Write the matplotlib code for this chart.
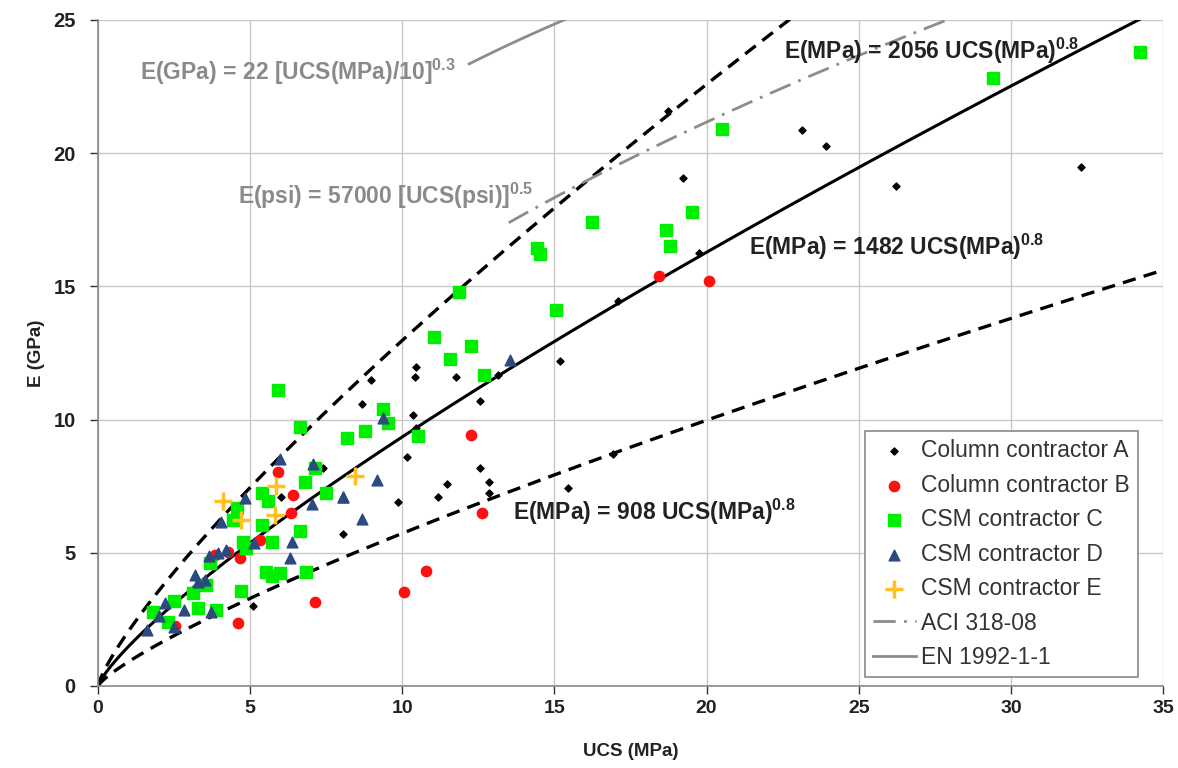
import numpy as np
import matplotlib
matplotlib.use("Agg")
import matplotlib.pyplot as plt

# ---- data ----
a_x = [18.73, 23.13, 23.92, 19.21, 19.76, 17.10, 15.18, 16.92, 15.45, 26.22, 32.3,
       10.45, 10.42, 11.75, 8.96, 8.67, 10.36, 12.55, 13.13, 10.45, 10.17, 7.38,
       12.55, 11.46, 12.86, 12.86, 11.16, 9.87, 8.06, 6.0, 5.09]
a_y = [21.58, 20.87, 20.27, 19.08, 16.24, 14.45, 12.2, 8.71, 7.43, 18.78, 19.48,
       11.99, 11.58, 11.58, 11.49, 10.57, 10.17, 10.7, 11.69, 9.7, 8.61, 8.17,
       8.17, 7.58, 7.67, 7.24, 7.1, 6.9, 5.7, 7.08, 3.0]

b_x = [18.44, 20.08, 12.26, 12.63, 10.78, 10.07, 5.92, 6.41, 6.35, 5.31, 4.68,
       7.14, 4.6, 3.83, 4.27, 2.52]
b_y = [15.39, 15.2, 9.42, 6.51, 4.32, 3.54, 8.05, 7.17, 6.51, 5.48, 4.79,
       3.17, 2.38, 4.92, 5.04, 2.25]

c_x = [34.24, 29.41, 20.51, 19.52, 18.8, 18.67, 16.23, 14.43, 14.52, 15.05, 11.86,
       11.04, 12.26, 11.56, 12.68, 10.53, 9.38, 9.54, 8.79, 8.19, 6.8, 7.49, 6.64,
       7.13, 6.64, 6.84, 5.92, 5.38, 5.6, 4.56, 4.45, 5.38, 4.78, 4.87, 5.71,
       5.52, 5.98, 5.71, 4.69, 3.68, 3.29, 3.89, 1.81, 2.3, 2.5, 3.12, 3.56]
c_y = [23.8, 22.82, 20.91, 17.79, 16.52, 17.12, 17.42, 16.44, 16.22, 14.11, 14.79,
       13.09, 12.78, 12.26, 11.67, 9.38, 10.39, 9.86, 9.57, 9.3, 7.64, 7.26, 9.73,
       8.17, 5.8, 4.29, 11.11, 7.23, 6.93, 6.68, 6.23, 6.04, 5.42, 5.17, 5.42,
       4.29, 4.23, 4.11, 3.58, 4.6, 2.91, 2.85, 2.76, 2.42, 3.18, 3.5, 3.79]

d_x = [13.55, 9.36, 7.05, 9.16, 8.04, 8.66, 7.03, 5.98, 4.83, 4.05, 8.06,
       6.37, 6.3, 5.12, 4.22, 3.94, 3.65, 3.2, 3.29, 3.5, 2.19, 2.83, 2.0, 2.5,
       1.62, 3.72]
d_y = [12.25, 10.05, 8.35, 7.73, 7.1, 6.28, 6.82, 8.53, 7.06, 6.17, 7.09,
       5.42, 4.79, 5.35, 5.12, 4.98, 4.88, 4.15, 3.91, 3.98, 3.1, 2.85, 2.63, 2.23,
       2.1, 2.79]

e_x = [4.1, 5.86, 4.71, 5.82, 8.43]
e_y = [6.95, 7.52, 6.23, 6.42, 7.87]

# model coefficients shown in the chart
k_upper, k_mid, k_lower, expo = 2.056, 1.482, 0.908, 0.8   # GPa = k * UCS^0.8
aci_k = 4.733          # 57000 sqrt(psi) -> GPa
aci_range = (13.5, 28.0)
en_k, en_exp = 22.0, 0.3
en_range = (12.2, 15.4)

plt.rcParams['font.family'] = ['Liberation Sans', 'DejaVu Sans']
plt.rcParams['mathtext.default'] = 'regular'
plt.rcParams['mathtext.fontset'] = 'custom'
plt.rcParams['mathtext.rm'] = 'Liberation Sans'

fig = plt.figure(figsize=(11.78, 7.68), dpi=100)
ax = fig.add_axes([0.0832, 0.1068, 0.9041, 0.8672])

xs = np.linspace(0, 35, 400)
ax.plot(xs, k_upper * xs ** expo, color='black', lw=2.4, ls=(0, (4, 2.5)), zorder=2)
ax.plot(xs, k_mid * xs ** expo, color='black', lw=2.2, ls='-', zorder=2)
ax.plot(xs, k_lower * xs ** expo, color='black', lw=2.4, ls=(0, (4, 2.5)), zorder=2)

xa = np.linspace(*aci_range, 100)
ax.plot(xa, aci_k * np.sqrt(xa), color='#8c8c8c', lw=2.0, ls=(0, (8, 3, 1, 3)),
        zorder=2, label='ACI 318-08')
xe = np.linspace(*en_range, 50)
ax.plot(xe, en_k * (xe / 10) ** en_exp, color='#8c8c8c', lw=2.0, ls='-',
        zorder=2, label='EN 1992-1-1')

hA = ax.scatter(a_x, a_y, marker='D', s=13, color='black', zorder=3, label='Column contractor A')
hB = ax.scatter(b_x, b_y, marker='o', s=55, color='#ff1010', zorder=3, label='Column contractor B')
hC = ax.scatter(c_x, c_y, marker='s', s=70, color='#00ee00', zorder=3, label='CSM contractor C')
hD = ax.scatter(d_x, d_y, marker='^', s=60, color='#2a4a80', zorder=3, label='CSM contractor D')
hE = ax.scatter(e_x, e_y, marker='+', s=180, linewidths=2.5, color='#ffc020', zorder=4,
                label='CSM contractor E')

ax.set_xlim(0, 35)
ax.set_ylim(0, 25)
ax.set_xticks(range(0, 36, 5))
ax.set_yticks(range(0, 26, 5))
ax.grid(True, color='#c8c8c8', lw=1.0)
ax.set_axisbelow(True)
for s in ['top', 'right']:
    ax.spines[s].set_visible(False)
for s in ['left', 'bottom']:
    ax.spines[s].set_color('#888888')
    ax.spines[s].set_linewidth(1.2)
ax.tick_params(axis='x', labelsize=14, colors='#333333', length=6, width=1, pad=4)
ax.tick_params(axis='y', labelsize=14.5, colors='#333333', length=6, width=1, pad=10)
for lbl in ax.get_xticklabels() + ax.get_yticklabels():
    lbl.set_fontweight('bold')
    lbl.set_color('#222222')
ax.set_xlabel('UCS (MPa)', fontsize=13.5, fontweight='bold', color='#222222', labelpad=19)
ax.set_ylabel('E (GPa)', fontsize=13.5, fontweight='bold', color='#222222', labelpad=6)

sup = lambda s: r'$^{\mathregular{' + s + '}}$'
gray = '#8a8a8a'
ax.text(1.38, 23.05, 'E(GPa) = 22 [UCS(MPa)/10]' + sup('0.3'), fontsize=16.5, color=gray,
        fontweight='bold', va='center', ha='left')
ax.text(4.6, 18.4, 'E(psi) = 57000 [UCS(psi)]' + sup('0.5'), fontsize=16.5, color=gray,
        fontweight='bold', va='center', ha='left')
ax.text(22.55, 23.85, 'E(MPa) = 2056 UCS(MPa)' + sup('0.8'), fontsize=16.5, color='#222222',
        fontweight='bold', va='center', ha='left')
ax.text(21.4, 16.5, 'E(MPa) = 1482 UCS(MPa)' + sup('0.8'), fontsize=16.5, color='#222222',
        fontweight='bold', va='center', ha='left')
ax.text(13.64, 6.53, 'E(MPa) = 908 UCS(MPa)' + sup('0.8'), fontsize=16.5, color='#222222',
        fontweight='bold', va='center', ha='left')

handles = [hA, hB, hC, hD, hE] + ax.get_lines()[3:5]
leg = ax.legend(handles=handles, loc='lower right', fontsize=16.5, frameon=True,
                fancybox=False, edgecolor='#888888', framealpha=1.0,
                handlelength=1.85, borderpad=0.35, labelspacing=0.5,
                bbox_to_anchor=(0.9765, 0.0135), handletextpad=0.25,
                borderaxespad=0.0)
leg.get_frame().set_linewidth(1.2)
for t in leg.get_texts():
    t.set_color('#333333')

fig.savefig('out.png', dpi=100)
